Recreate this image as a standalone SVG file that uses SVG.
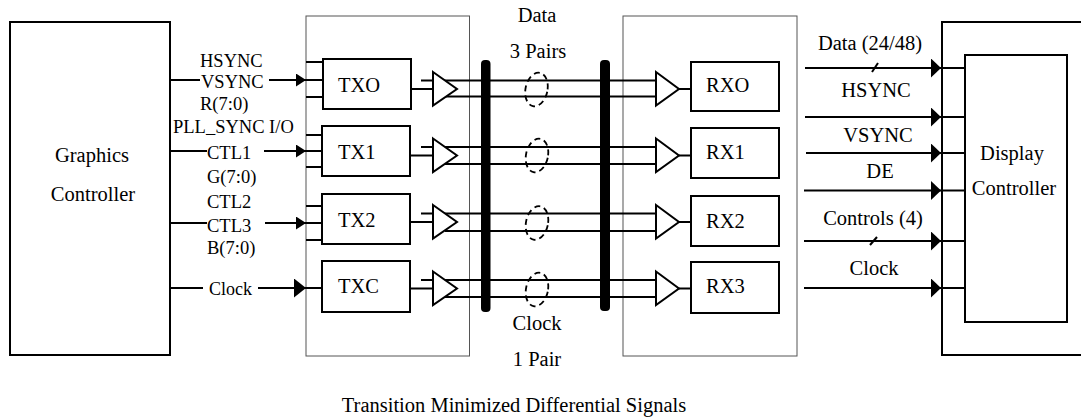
<svg xmlns="http://www.w3.org/2000/svg" width="1081" height="417" viewBox="0 0 1081 417" font-family="'Liberation Serif', 'Times New Roman', 'DejaVu Serif', serif">
<defs>
<style>
.box{fill:none;stroke:#000;stroke-width:2}
.thin{fill:none;stroke:#555;stroke-width:1}
.w{fill:none;stroke:#000;stroke-width:2}
.buf{fill:#fff;stroke:#000;stroke-width:2;stroke-linejoin:miter}
.bar{fill:#000}
.loop{fill:none;stroke:#000;stroke-width:1.8;stroke-dasharray:6 4}
text{font-family:'Liberation Serif','Times New Roman','DejaVu Serif',serif;fill:#000}
.s{font-size:18.5px}
.b{font-size:20.5px}
.m{text-anchor:middle}
</style>
<marker id="arrS" markerWidth="10" markerHeight="13" refX="10" refY="6.5" orient="auto" markerUnits="userSpaceOnUse"><path d="M0,0 L10,6.5 L0,13 z" fill="#000"/></marker>
<marker id="arrL" markerWidth="12" markerHeight="19" refX="12" refY="9.5" orient="auto" markerUnits="userSpaceOnUse"><path d="M0,0 L12,9.5 L0,19 z" fill="#000"/></marker>
<marker id="arrR" markerWidth="10" markerHeight="19" refX="10" refY="9.5" orient="auto" markerUnits="userSpaceOnUse"><path d="M0,0 L10,9.5 L0,19 z" fill="#000"/></marker>
</defs>
<rect width="1081" height="417" fill="#fff"/>

<g id="graphics-controller">
<rect class="box" x="10" y="22" width="160" height="333"/>
<text class="b m" x="92" y="162" font-family="Liberation Serif">Graphics</text>
<text class="b m" x="93" y="201" font-family="Liberation Serif">Controller</text>
</g>

<g id="tx-module">
<rect class="thin" x="306" y="16" width="163.5" height="340"/>
</g>
<g id="rx-module">
<rect class="thin" x="623" y="16" width="174" height="340"/>
</g>

<g id="connectors">
<path class="w" d="M170,80 H200"/>
<path class="w" d="M269,80 H306" marker-end="url(#arrS)"/>
<path class="w" d="M170,151 H207"/>
<path class="w" d="M264,151 H306" marker-end="url(#arrS)"/>
<path class="w" d="M170,223 H207"/>
<path class="w" d="M265,223 H306" marker-end="url(#arrS)"/>
<path class="w" d="M170,288 H203"/>
<path class="w" d="M258,288 H306" marker-end="url(#arrL)"/>
<path class="w" d="M306,62 H323 M306,80 H323 M306,97 H323"/>
<path class="w" d="M306,135 H322 M306,151 H322 M306,167 H322"/>
<path class="w" d="M306,206 H322 M306,223 H322 M306,240 H322"/>
<path class="w" d="M306,288 H322"/>
<path class="w" d="M411,89 H435 M411,155.5 H435 M411,222 H435 M411,288.5 H435"/>
<path class="w" d="M421,80.5 H657 M445,96.5 H657"/>
<path class="w" d="M421,147 H657 M445,164 H657"/>
<path class="w" d="M421,213.5 H657 M445,231 H657"/>
<path class="w" d="M421,280 H657 M445,297 H657"/>
<path class="w" d="M679,89 H691 M679,155.5 H691 M679,222 H691 M679,288.5 H691"/>
<path class="w" d="M805,68 H941" marker-end="url(#arrR)"/>
<path class="w" d="M941,68 H966"/>
<path class="w" d="M872,72 L878,63"/>
<path class="w" d="M805,117 H941" marker-end="url(#arrR)"/>
<path class="w" d="M941,117 H966"/>
<path class="w" d="M806,153 H941" marker-end="url(#arrR)"/>
<path class="w" d="M941,153 H966"/>
<path class="w" d="M804,190.5 H941" marker-end="url(#arrR)"/>
<path class="w" d="M941,190.5 H966"/>
<path class="w" d="M804,241 H941" marker-end="url(#arrR)"/>
<path class="w" d="M941,241 H966"/>
<path class="w" d="M870,245 L877,237"/>
<path class="w" d="M804,288 H941" marker-end="url(#arrR)"/>
<path class="w" d="M941,288 H966"/>
</g>

<g id="tx-buffers">
<path class="buf" d="M433,72 L457,89 L433,105.5 Z"/>
<path class="buf" d="M433,138.5 L457,155.5 L433,172 Z"/>
<path class="buf" d="M433,205 L457,222 L433,238.5 Z"/>
<path class="buf" d="M433,271.5 L457,288.5 L433,305 Z"/>
</g>
<g id="rx-buffers">
<path class="buf" d="M656,72 L679,89 L656,105.5 Z"/>
<path class="buf" d="M656,138.5 L679,155.5 L656,172 Z"/>
<path class="buf" d="M656,205 L679,222 L656,238.5 Z"/>
<path class="buf" d="M656,271.5 L679,288.5 L656,305 Z"/>
</g>

<g id="bars">
<rect class="bar" x="481" y="60" width="9.5" height="252" rx="4"/>
<rect class="bar" x="600" y="60" width="10" height="251" rx="4"/>
</g>

<g id="twist-loops">
<ellipse class="loop" cx="536.5" cy="89.5" rx="11" ry="17" transform="rotate(12 536.5 89.5)"/>
<ellipse class="loop" cx="537" cy="155.5" rx="11" ry="17" transform="rotate(12 537 155.5)"/>
<ellipse class="loop" cx="537" cy="223" rx="11" ry="17" transform="rotate(12 537 223)"/>
<ellipse class="loop" cx="537" cy="289.5" rx="11" ry="17" transform="rotate(12 537 289.5)"/>
</g>

<g id="tx0"><rect class="box" x="323" y="59" width="88" height="50"/><text class="b" x="338" y="92">TXO</text></g>
<g id="tx1"><rect class="box" x="322" y="126" width="88" height="50"/><text class="b" x="338" y="159">TX1</text></g>
<g id="tx2"><rect class="box" x="322" y="194" width="88" height="50"/><text class="b" x="338" y="227">TX2</text></g>
<g id="txc"><rect class="box" x="322" y="261" width="88" height="51"/><text class="b" x="338" y="293">TXC</text></g>

<g id="rx0"><rect class="box" x="691" y="62" width="88" height="49"/><text class="b" x="706" y="92">RXO</text></g>
<g id="rx1"><rect class="box" x="691" y="128" width="88" height="50"/><text class="b" x="706" y="159">RX1</text></g>
<g id="rx2"><rect class="box" x="691" y="196" width="88" height="50"/><text class="b" x="706" y="228">RX2</text></g>
<g id="rx3"><rect class="box" x="691" y="262" width="88" height="51"/><text class="b" x="706" y="293">RX3</text></g>

<g id="display-controller">
<path class="box" d="M1082,22 H942 V355 H1082"/>
<rect class="box" x="965" y="55" width="102" height="267"/>
<text class="b m" x="1012" y="160">Display</text>
<text class="b m" x="1014" y="195">Controller</text>
</g>

<g id="labels">
<text class="s" x="200" y="67">HSYNC</text>
<text class="s" x="201" y="88">VSYNC</text>
<text class="s" x="200" y="110">R(7:0)</text>
<text class="s" x="173" y="133">PLL_SYNC I/O</text>
<text class="s" x="207" y="159">CTL1</text>
<text class="s" x="207" y="183">G(7:0)</text>
<text class="s" x="207" y="208">CTL2</text>
<text class="s" x="207" y="232">CTL3</text>
<text class="s" x="207" y="254">B(7:0)</text>
<text class="s" x="209" y="295" style="font-size:18px">Clock</text>
<text class="b m" x="537" y="22">Data</text>
<text class="b m" x="538" y="58">3 Pairs</text>
<text class="b m" x="537" y="330">Clock</text>
<text class="b m" x="537" y="366">1 Pair</text>
<text class="b m" x="514" y="412">Transition Minimized Differential Signals</text>
<text class="b m" x="870" y="50">Data (24/48)</text>
<text class="b m" x="876" y="97">HSYNC</text>
<text class="b m" x="878" y="142">VSYNC</text>
<text class="b m" x="880" y="178">DE</text>
<text class="b m" x="873" y="225">Controls (4)</text>
<text class="b m" x="874" y="275">Clock</text>
</g>
</svg>
